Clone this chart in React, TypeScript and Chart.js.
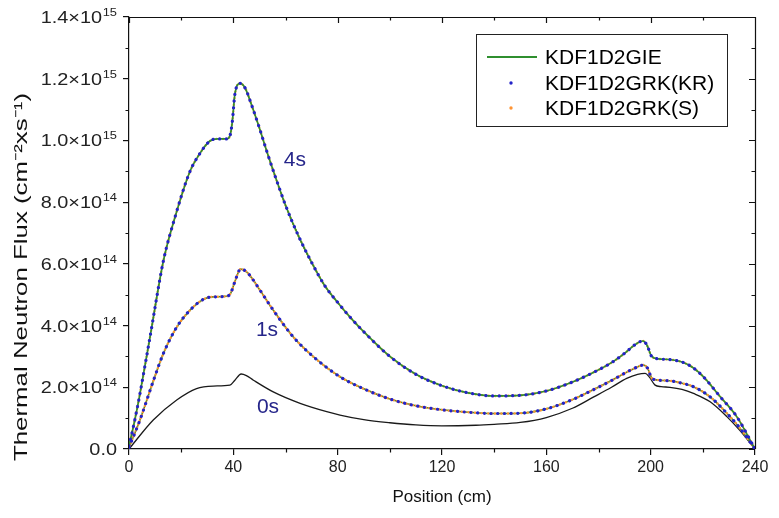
import React, { useEffect, useRef } from 'react';
import { Chart, registerables } from 'chart.js';

Chart.register(...registerables);

// ---------- data (flux in units of 1e14 cm^-2 s^-1) ----------
const FLUX_UNIT = 1e14;

const pos4s = [0, 2, 4, 8, 13.2, 17.6, 23.4, 27.2, 31, 34, 37.5, 38.7, 39.6, 40.6, 42.6, 44.5, 47, 50, 53, 56, 60, 65, 70, 75, 80, 85, 90, 100, 110, 120, 130, 140, 150, 160, 170, 178, 185, 190, 194, 197, 198.5, 200.4, 203, 207, 212, 216, 220, 226.6, 233, 240];
const flux4s = [0.1, 0.85, 1.7, 3.6, 6.1, 7.5, 9.0, 9.58, 9.98, 10.05, 10.05, 10.15, 10.6, 11.5, 11.85, 11.7, 11.15, 10.4, 9.6, 8.85, 7.9, 6.9, 6.05, 5.3, 4.75, 4.25, 3.8, 3.0, 2.42, 2.05, 1.82, 1.72, 1.74, 1.88, 2.17, 2.48, 2.8, 3.1, 3.38, 3.5, 3.38, 3.0, 2.92, 2.9, 2.82, 2.65, 2.36, 1.7, 1.05, 0];

const pos1s = [0, 4.2, 9.3, 13.2, 18.3, 23.4, 28.5, 32, 37.5, 39, 40.5, 42.8, 45, 47, 50.2, 55.3, 63, 70.7, 80.9, 90, 100, 110, 120, 130, 140, 150, 160, 170, 178, 185, 191, 195, 197.2, 198.8, 200.4, 203, 207.4, 212, 216.4, 222.8, 229.2, 234, 240];
const flux1s = [0.05, 0.94, 2.2, 3.1, 3.95, 4.5, 4.85, 4.93, 4.95, 5.05, 5.4, 5.83, 5.75, 5.55, 5.15, 4.5, 3.63, 2.99, 2.34, 1.95, 1.62, 1.4, 1.27, 1.19, 1.15, 1.16, 1.3, 1.6, 1.92, 2.22, 2.5, 2.66, 2.72, 2.62, 2.3, 2.23, 2.21, 2.13, 2.02, 1.69, 1.16, 0.7, 0];

const pos0s = [0, 9.3, 18.3, 25.9, 32.3, 38.7, 40.6, 43, 45, 47.7, 55.3, 65.6, 75.8, 80.9, 90, 100, 110, 120, 133, 140, 150, 160, 170, 178, 185, 190.8, 195, 197.9, 199.5, 201.7, 204, 207.4, 212, 216.4, 222.8, 229.2, 234, 240];
const flux0s = [0, 0.94, 1.59, 1.96, 2.04, 2.07, 2.23, 2.43, 2.38, 2.23, 1.85, 1.48, 1.21, 1.1, 0.95, 0.85, 0.78, 0.75, 0.77, 0.8, 0.86, 1.02, 1.32, 1.68, 2.0, 2.29, 2.42, 2.45, 2.33, 2.07, 2.02, 2.0, 1.93, 1.8, 1.53, 1.05, 0.62, 0];

const xTickValues = [0, 40, 80, 120, 160, 200, 240];
const yTickMantissa = ['0.0', '2.0×10', '4.0×10', '6.0×10', '8.0×10', '1.0×10', '1.2×10', '1.4×10'];
const yTickExponent = ['', '14', '14', '14', '14', '15', '15', '15'];
const Y_TICK_STEP = 2e14;
const legendLabels = ['KDF1D2GIE', 'KDF1D2GRK(KR)', 'KDF1D2GRK(S)'];
const timeLabels = ['4s', '1s', '0s'];
const timeLabelX = [63.6, 52.9, 53.3];
const timeLabelY = [9.35, 3.85, 1.36];
const yTitle = 'Thermal Neutron Flux (cm⁻²xs⁻¹)';
const xTitle = 'Position (cm)';

const GREEN = '#2f8f2f';
const BLUE = '#2323c8';
const ORANGE = '#ff9433';
const NAVY = '#25258a';
const FONT = '"Liberation Sans", Arial, sans-serif';

const toPts = (xs: number[], ys: number[]) => xs.map((x, i) => ({ x, y: ys[i] * FLUX_UNIT }));

const framePlugin = {
  id: 'frame',
  afterDatasetsDraw(chart: any) {
    const { ctx, scales } = chart;
    const x = scales.x, y = scales.y;
    ctx.save();
    ctx.fillStyle = NAVY;
    ctx.font = `21px ${FONT}`;
    ctx.textAlign = 'center';
    ctx.textBaseline = 'middle';
    timeLabels.forEach((t, i) => {
      ctx.fillText(t, x.getPixelForValue(timeLabelX[i]), y.getPixelForValue(timeLabelY[i] * FLUX_UNIT));
    });
    ctx.restore();
  },
  afterDraw(chart: any) {
    const { ctx, chartArea: a, scales } = chart;
    const x = scales.x, y = scales.y;
    const r = (v: number) => Math.round(v) + 0.5;
    ctx.save();
    ctx.strokeStyle = '#111';
    ctx.lineWidth = 1.2;
    ctx.beginPath();
    ctx.moveTo(a.left, r(a.top));
    ctx.lineTo(r(a.right), r(a.top));
    ctx.lineTo(r(a.right), a.bottom);
    for (let v = 0; v <= 240; v += 20) {
      const px = r(x.getPixelForValue(v));
      const major = v % 40 === 0;
      ctx.moveTo(px, a.top);
      ctx.lineTo(px, a.top + (major ? 6 : 3.5));
      if (!major) {
        ctx.moveTo(px, a.bottom);
        ctx.lineTo(px, a.bottom + 3.5);
      }
    }
    for (let k = 0; k <= 14; k++) {
      const py = r(y.getPixelForValue(k * FLUX_UNIT));
      const major = k % 2 === 0;
      ctx.moveTo(a.right, py);
      ctx.lineTo(a.right - (major ? 6 : 3.5), py);
      if (!major) {
        ctx.moveTo(a.left, py);
        ctx.lineTo(a.left - 3.5, py);
      }
    }
    ctx.stroke();

    // y tick labels with superscript exponents (slightly widened like the source)
    ctx.fillStyle = '#222';
    ctx.textBaseline = 'alphabetic';
    ctx.textAlign = 'right';
    const sx = 1.17;
    yTickMantissa.forEach((m, i) => {
      const py = y.getPixelForValue(i * Y_TICK_STEP);
      const right = a.left - 12;
      const e = yTickExponent[i];
      ctx.save();
      ctx.translate(right, py);
      ctx.scale(sx, 1);
      ctx.font = `11px ${FONT}`;
      const ew = e ? ctx.measureText(e).width : 0;
      if (e) ctx.fillText(e, 0, -1);
      ctx.font = `17px ${FONT}`;
      ctx.fillText(m, -ew - (e ? 0.5 : 0), 6);
      ctx.restore();
    });

    // y title (stretched along its length like the source)
    ctx.save();
    ctx.translate(22, 277);
    ctx.rotate(-Math.PI / 2);
    ctx.scale(1.36, 1);
    ctx.textAlign = 'center';
    ctx.textBaseline = 'middle';
    ctx.font = `19px ${FONT}`;
    ctx.fillStyle = '#111';
    ctx.fillText(yTitle, 0, 0);
    ctx.restore();

    // legend
    const lx = 476, ly = 34, lw = 251, lh = 92;
    ctx.lineWidth = 1;
    ctx.strokeStyle = '#222';
    ctx.strokeRect(lx + 0.5, ly + 0.5, lw, lh);
    ctx.font = `21px ${FONT}`;
    ctx.textBaseline = 'middle';
    ctx.textAlign = 'left';
    const rowOffsets = [23, 49, 74];
    legendLabels.forEach((lab, i) => {
      const yy = ly + rowOffsets[i];
      if (i === 0) {
        ctx.strokeStyle = GREEN;
        ctx.lineWidth = 2;
        ctx.beginPath();
        ctx.moveTo(lx + 11, yy);
        ctx.lineTo(lx + 61, yy);
        ctx.stroke();
      } else {
        ctx.fillStyle = i === 1 ? BLUE : ORANGE;
        ctx.beginPath();
        ctx.arc(lx + 35, yy, 1.7, 0, Math.PI * 2);
        ctx.fill();
      }
      ctx.fillStyle = '#000';
      ctx.fillText(lab, lx + 69, yy + 1);
    });
    ctx.restore();
  },
};

export default function App() {
  const ref = useRef<HTMLCanvasElement | null>(null);
  useEffect(() => {
    document.body.style.margin = '0';
    const lineBase = { pointRadius: 0, cubicInterpolationMode: 'monotone' as const, fill: false };
    const dotted = (color: string, width: number, gap: number, offset: number) => ({
      ...lineBase,
      borderColor: color,
      backgroundColor: color,
      borderWidth: width,
      borderDash: [0.1, gap],
      borderDashOffset: offset,
      borderCapStyle: 'round' as const,
    });
    // Chart.js draws the first dataset on top: list from top layer to bottom layer
    const chart = new Chart(ref.current!, {
      type: 'line',
      data: {
        datasets: [
          { label: legendLabels[1], data: toPts(pos1s, flux1s), ...dotted(BLUE, 3.2, 6.6, 0) },
          { label: legendLabels[1], data: toPts(pos4s, flux4s), ...dotted(BLUE, 3.2, 6.6, 0) },
          { label: legendLabels[0], data: toPts(pos4s, flux4s), ...lineBase, borderColor: GREEN, borderWidth: 1.7 },
          { label: legendLabels[2], data: toPts(pos1s, flux1s), ...dotted(ORANGE, 2.4, 3.2, 1.5) },
          { label: legendLabels[2], data: toPts(pos4s, flux4s), ...dotted(ORANGE, 2.4, 3.2, 1.5) },
          { label: legendLabels[0], data: toPts(pos1s, flux1s), ...lineBase, borderColor: GREEN, borderWidth: 1.6 },
          { label: '0s', data: toPts(pos0s, flux0s), ...lineBase, borderColor: '#1a1a1a', borderWidth: 1.3 },
        ],
      },
      options: {
        responsive: false,
        animation: false,
        devicePixelRatio: 1,
        layout: { padding: { top: 17, right: 24, left: 0, bottom: 0 } },
        plugins: { legend: { display: false }, tooltip: { enabled: false } },
        scales: {
          x: {
            type: 'linear',
            min: 0,
            max: 240,
            afterBuildTicks: (s: any) => { s.ticks = xTickValues.map((v) => ({ value: v })); },
            afterFit: (s: any) => { s.height = 69; },
            ticks: { color: '#222', font: { family: FONT, size: 16 }, padding: 3 },
            grid: { display: true, drawOnChartArea: false, drawTicks: true, tickLength: 6, color: '#111', lineWidth: 1.2 },
            border: { display: true, color: '#111', width: 1.2 },
            title: { display: true, text: xTitle, color: '#111', font: { family: FONT, size: 17 }, padding: { top: 0, bottom: 10 } },
          },
          y: {
            type: 'linear',
            min: 0,
            max: 1.4e15,
            ticks: { stepSize: Y_TICK_STEP, display: false },
            afterFit: (s: any) => { s.width = 129; },
            grid: { display: true, drawOnChartArea: false, drawTicks: true, tickLength: 6, color: '#111', lineWidth: 1.2 },
            border: { display: true, color: '#111', width: 1.2 },
            title: { display: false },
          },
        },
      },
      plugins: [framePlugin],
    });
    return () => chart.destroy();
  }, []);
  return (
    <div style={{ position: 'absolute', left: 0, top: 0, width: 779, height: 518, background: '#fff' }}>
      <canvas ref={ref} width={779} height={518} />
    </div>
  );
}
